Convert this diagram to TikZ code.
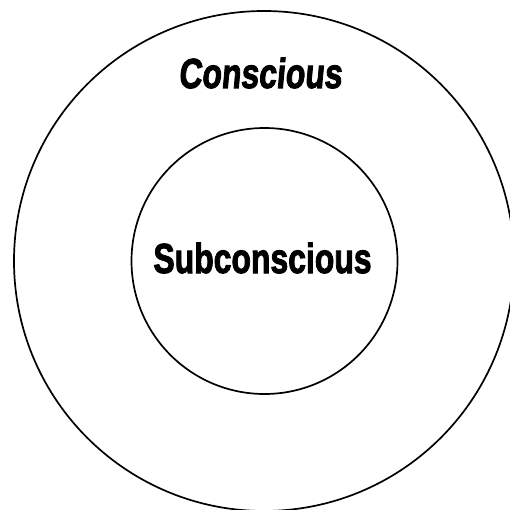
\documentclass[tikz,border=0pt]{standalone}
\usepackage{fontspec}
\setmainfont{Liberation Sans}
\newfontfamily\heavyfont[RawFeature={embolden=2.5}]{Liberation Sans Bold}
\newfontfamily\heavyslant[RawFeature={embolden=2.5;slant=0.12}]{Liberation Sans Bold}
\begin{document}
\begin{tikzpicture}[x=1pt,y=1pt,
  ring/.style={draw=black,line width=1.7pt},
  lbl/.style={font=\fontsize{42}{46}\selectfont,xscale=0.76,anchor=base,inner sep=0pt}]
\useasboundingbox (0,0) rectangle (510,509);
\clip (0,0) rectangle (510,509);
\fill[white] (0,0) rectangle (510,509);
\draw[ring] (264,248) circle[radius=250];
\draw[ring] (264.5,248) circle[radius=133];
\node[lbl] (conscious) at (260,421) {\heavyslant Conscious};
\node[lbl] (sub) at (262.5,236) {\heavyfont Subconscious};
\end{tikzpicture}
\end{document}
